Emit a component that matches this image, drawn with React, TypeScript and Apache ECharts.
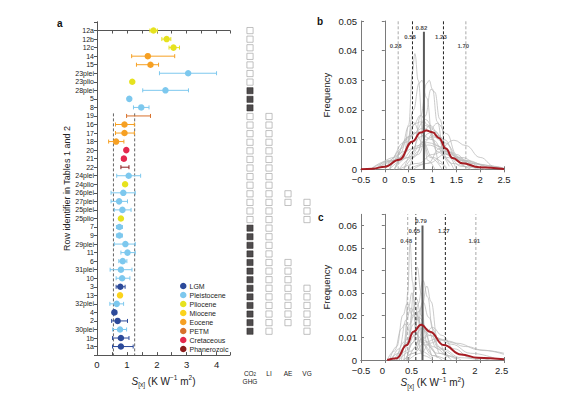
import React, { useEffect, useRef } from "react";
import * as echarts from "echarts";

// ---------- Panel a data ----------
const rowIds = ["12a","12b","12c","14","15","23plei","23plio","28plei","5","8","19","16","17","18","20","21","22","24plei","24plio","26plei","27plei","25plei","25plio","7","9","29plei","11","6","31plei","10","3","13","32plei","4","2","30plei","1b","1a"];
const rowPeriod = ["Pliocene","Pliocene","Pliocene","Eocene","Eocene","Pleistocene","Pliocene","Pleistocene","Pleistocene","Pleistocene","PETM","Eocene","Eocene","Eocene","Cretaceous","Cretaceous","Phanerozoic","Pleistocene","Pliocene","Pleistocene","Pleistocene","Pleistocene","Pliocene","Pleistocene","Pleistocene","Pleistocene","Pleistocene","Pleistocene","Pleistocene","Pleistocene","LGM","Miocene","Pleistocene","LGM","LGM","Pleistocene","LGM","LGM"];
const rowBest = [1.89,2.33,2.56,1.70,1.79,3.05,1.18,2.29,1.08,1.48,null,0.92,0.92,0.64,0.98,0.9,null,1.06,0.94,0.88,0.74,0.85,0.80,0.75,0.75,0.95,1.02,0.86,0.80,0.84,0.78,0.77,0.66,0.58,0.69,0.77,0.80,0.80];
const rowLow = [1.77,2.17,2.41,1.16,1.32,2.09,null,1.53,null,1.22,0.99,0.62,0.62,0.39,null,0.82,0.80,0.66,null,0.47,0.47,0.58,null,0.65,0.65,0.58,0.80,0.73,0.44,0.64,0.64,null,0.43,0.52,0.49,0.52,0.52,0.52];
const rowHigh = [2.02,2.47,2.76,2.60,2.06,4.00,null,3.06,null,1.74,1.79,1.25,1.25,0.90,null,0.95,1.07,1.46,null,1.28,1.02,1.14,null,0.85,0.85,1.28,1.28,1.00,1.17,1.10,0.94,null,0.89,0.66,1.02,0.99,1.07,1.21];

const periods = ["LGM","Pleistocene","Pliocene","Miocene","Eocene","PETM","Cretaceous","Phanerozoic"];
const periodColors = ["#2c4a9a","#7dc8ee","#e6e21e","#fbd31c","#f6a023","#d8712c","#e4284d","#8b1c1c"];

const aRangeLines = [0.55, 1.26];
const aRangeStartRow = "19";

// forcing columns
const sqColumns = ["{c|CO}{s|2}\n{c|GHG}", "LI", "AE", "VG"];
const co2Open = ["12a","12b","12c","14","15","23plei","23plio","19","16","17","18","20","21","22","24plei","24plio","26plei","27plei","25plei","25plio"];
const co2Filled = ["28plei","5","8","7","9","29plei","11","6","31plei","10","3","13","32plei","4","2","30plei"];
const liRows = ["19","16","17","18","20","21","22","24plei","24plio","26plei","27plei","25plei","25plio","7","9","29plei","11","6","31plei","10","3","13","32plei","4","2","30plei"];
const aeRows = ["26plei","27plei","6","31plei","10","3","13","32plei","4","2"];
const vgRows = ["27plei","25plei","25plio","3","13","32plei","4","2","30plei"];

// ---------- Panel b data ----------
const bGrayCurves: number[][][] = [
  [[0.2,0],[0.4,0.004],[0.5,0.015],[0.58,0.033],[0.63,0.039],[0.7,0.03],[0.8,0.012],[0.9,0.003],[1.05,0]],
  [[0.2,0],[0.45,0.006],[0.6,0.02],[0.72,0.029],[0.78,0.030],[0.88,0.024],[1.0,0.01],[1.15,0.002],[1.3,0]],
  [[0.4,0],[0.6,0.006],[0.75,0.018],[0.88,0.029],[0.93,0.030],[1.0,0.027],[1.1,0.016],[1.25,0.004],[1.45,0]],
  [[0.5,0],[0.7,0.006],[0.85,0.018],[0.97,0.027],[1.05,0.026],[1.15,0.017],[1.3,0.005],[1.5,0]],
  [[-0.2,0],[0.2,0.003],[0.45,0.01],[0.65,0.0155],[0.75,0.016],[0.9,0.0145],[1.1,0.008],[1.4,0.002],[1.8,0]],
  [[0,0],[0.35,0.004],[0.6,0.012],[0.85,0.0168],[1.05,0.013],[1.3,0.005],[1.6,0.001],[2,0]],
  [[0.4,0],[0.7,0.005],[0.9,0.012],[1.1,0.0155],[1.3,0.012],[1.5,0.005],[1.8,0.001],[2.1,0]],
  [[0.6,0],[0.9,0.002],[1.15,0.007],[1.45,0.0098],[1.7,0.008],[2.0,0.004],[2.3,0.001],[2.5,0.0003]],
  [[-0.2,0],[0.2,0.004],[0.5,0.011],[0.8,0.0138],[1.1,0.011],[1.4,0.004],[1.8,0.0005]],
  [[-0.3,0],[0.1,0.003],[0.4,0.009],[0.7,0.0125],[1.0,0.01],[1.3,0.004],[1.7,0.0005]],
  [[0.1,0],[0.5,0.004],[0.8,0.009],[1.0,0.011],[1.25,0.009],[1.6,0.003],[2.0,0.0005]],
  [[-0.2,0],[0.3,0.003],[0.7,0.008],[0.9,0.009],[1.2,0.0075],[1.6,0.003],[2.2,0.0003]],
  [[0.3,0],[0.7,0.002],[1.0,0.005],[1.25,0.0062],[1.6,0.004],[2.0,0.0015],[2.5,0.0002]],
  [[0,0],[0.3,0.005],[0.5,0.011],[0.62,0.0125],[0.8,0.009],[1.0,0.004],[1.3,0.0005]],
  [[0.2,0],[0.5,0.004],[0.75,0.011],[0.95,0.0148],[1.15,0.011],[1.4,0.004],[1.7,0.0005]],
  [[0.1,0],[0.4,0.006],[0.6,0.015],[0.75,0.0182],[0.9,0.015],[1.1,0.006],[1.35,0.001]],
  [[-0.3,0],[0.2,0.003],[0.6,0.007],[0.9,0.0082],[1.3,0.006],[1.8,0.002],[2.4,0.0002]],
  [[0.3,0],[0.6,0.004],[0.85,0.01],[1.05,0.0125],[1.25,0.01],[1.5,0.004],[1.9,0.0005]],
  [[0.1,0],[0.35,0.007],[0.5,0.0145],[0.6,0.0158],[0.75,0.012],[0.95,0.004],[1.2,0]],
  [[0.5,0],[0.9,0.002],[1.3,0.0052],[1.7,0.003],[2.2,0.0008],[2.5,0.0002]],
];
const bRedCurve = [[-0.5,0],[-0.25,0.0002],[0,0.0009],[0.3,0.0032],[0.58,0.0094],[0.75,0.0124],[0.87,0.0131],[1.0,0.0125],[1.14,0.0105],[1.28,0.007],[1.42,0.0038],[1.63,0.002],[1.98,0.0007],[2.5,0.0001]];
const bMarkers = [0.28, 0.58, 0.82, 1.23, 1.70];
const bMarkerLabels = ["0.28","0.58","0.82","1.23","1.70"];
const bMarkerKinds = ["light","dark","solid","dark","light"];

// ---------- Panel c data ----------
const cGrayCurves: number[][][] = [
  [[0.35,0],[0.43,0.008],[0.48,0.03],[0.53,0.052],[0.58,0.035],[0.65,0.012],[0.8,0.002],[1.0,0]],
  [[0.4,0],[0.52,0.01],[0.6,0.03],[0.68,0.0415],[0.76,0.03],[0.85,0.012],[1.0,0.002],[1.2,0]],
  [[0.45,0],[0.6,0.008],[0.7,0.025],[0.8,0.0355],[0.9,0.028],[1.0,0.014],[1.15,0.003],[1.4,0]],
  [[0.5,0],[0.65,0.006],[0.78,0.024],[0.88,0.033],[0.97,0.026],[1.1,0.01],[1.3,0.002],[1.6,0]],
  [[0.1,0],[0.25,0.006],[0.38,0.02],[0.47,0.0252],[0.58,0.02],[0.75,0.008],[1.0,0.002],[1.3,0]],
  [[0.15,0],[0.3,0.005],[0.45,0.018],[0.55,0.0232],[0.68,0.018],[0.85,0.007],[1.1,0.001]],
  [[0.2,0],[0.38,0.005],[0.52,0.016],[0.63,0.021],[0.78,0.016],[1.0,0.006],[1.3,0.001]],
  [[0.25,0],[0.45,0.006],[0.6,0.016],[0.72,0.019],[0.88,0.014],[1.1,0.005],[1.5,0.0005]],
  [[0.25,0],[0.45,0.004],[0.62,0.011],[0.78,0.014],[0.95,0.011],[1.2,0.005],[1.6,0.001],[2.0,0]],
  [[0.4,0],[0.6,0.003],[0.8,0.01],[1.0,0.0145],[1.2,0.011],[1.45,0.005],[1.8,0.001],[2.2,0]],
  [[0.3,0],[0.55,0.004],[0.75,0.009],[0.95,0.011],[1.3,0.0085],[1.7,0.006],[2.1,0.0042],[2.5,0.003]],
  [[0.4,0],[0.6,0.003],[0.85,0.008],[1.1,0.0095],[1.5,0.0075],[2.0,0.0045],[2.5,0.0025]],
  [[0.25,0],[0.4,0.008],[0.5,0.024],[0.57,0.03],[0.66,0.022],[0.8,0.007],[1.0,0.001]],
  [[0.3,0],[0.48,0.008],[0.58,0.022],[0.66,0.0275],[0.76,0.02],[0.9,0.007],[1.1,0.001]],
  [[0.45,0],[0.6,0.008],[0.72,0.022],[0.8,0.026],[0.92,0.019],[1.1,0.006],[1.35,0.001]],
  [[0.5,0],[0.75,0.003],[0.95,0.0075],[1.15,0.009],[1.4,0.007],[1.8,0.003],[2.3,0.0008]],
  [[0.1,0],[0.3,0.003],[0.5,0.01],[0.62,0.0122],[0.8,0.009],[1.1,0.003],[1.5,0.0003]],
  [[0.05,0],[0.2,0.004],[0.35,0.014],[0.42,0.016],[0.55,0.012],[0.75,0.004],[1.0,0.0005]],
];
const cRedCurve = [[0.05,0],[0.25,0.0008],[0.46,0.0067],[0.6,0.0126],[0.76,0.0157],[0.95,0.0126],[1.23,0.0067],[1.6,0.0025],[1.95,0.001],[2.5,0.0003]];
const cMarkers = [0.48, 0.65, 0.79, 1.27, 1.91];
const cMarkerLabels = ["0.48","0.65","0.79","1.27","1.91"];
const cMarkerKinds = ["light","dark","solid","dark","light"];
const cTickLabels = ["\u22120.5","0","0.5","1","2","2.5"];
const cTickAt = [-0.5,-0.05,0.56,1.24,1.89,2.45];

const FONT = "'Liberation Sans', Arial, Helvetica, sans-serif";
const TXT = "#222";

function buildOption(): any {
  const rIdx = (id: string) => rowIds.indexOf(id);
  const A_AX = "#555";
  const P_AX = "#7a7a7a";

  const sxName = "{i|S}{sub|[x]}{n| (K W}{sup|\u22121}{n| m}{sup|2}{n|)}";
  const sxStyle = {
    fontFamily: FONT, color: TXT, fontSize: 10,
    rich: {
      i: { fontSize: 10, fontStyle: "italic", lineHeight: 14, fontFamily: FONT, color: TXT },
      n: { fontSize: 10, lineHeight: 14, fontFamily: FONT, color: TXT },
      sub: { fontSize: 6.5, verticalAlign: "bottom", fontFamily: FONT, color: TXT },
      sup: { fontSize: 6.5, verticalAlign: "top", fontFamily: FONT, color: TXT },
    },
  };

  const fmtX = (v: number) => (v < 0 ? "\u2212" + String(Math.abs(v)) : String(v));
  const fmtY = (v: number) => (v === 0 ? "0" : v.toFixed(2));

  const mirror = (gridIndex: number, position: string, min: number, max: number, interval: number, color: string, inverse = false) => ({
    gridIndex, type: "value", position, min, max, interval, inverse,
    axisLine: { show: true, lineStyle: { color, width: 1 } },
    axisTick: { show: true, inside: true, length: 3, lineStyle: { color } },
    axisLabel: { show: false },
    splitLine: { show: false },
  });

  const series: any[] = [];

  // panel a error bars
  const errData: number[][] = [];
  rowIds.forEach((id, i) => {
    if (rowLow[i] != null && rowHigh[i] != null) {
      errData.push([rowLow[i] as number, rowHigh[i] as number, i, periods.indexOf(rowPeriod[i])]);
    }
  });
  series.push({
    type: "custom", xAxisIndex: 0, yAxisIndex: 0, z: 2, silent: true,
    encode: { x: [0, 1], y: 2 },
    data: errData,
    renderItem: (params: any, api: any) => {
      const lo = api.value(0), hi = api.value(1), r = api.value(2), ci = api.value(3);
      const p1 = api.coord([lo, r]);
      const p2 = api.coord([hi, r]);
      const c = periodColors[ci];
      const cap = 2;
      const st = { stroke: c, lineWidth: 1 };
      return {
        type: "group",
        children: [
          { type: "line", shape: { x1: p1[0], y1: p1[1], x2: p2[0], y2: p2[1] }, style: st },
          { type: "line", shape: { x1: p1[0], y1: p1[1] - cap, x2: p1[0], y2: p1[1] + cap }, style: st },
          { type: "line", shape: { x1: p2[0], y1: p2[1] - cap, x2: p2[0], y2: p2[1] + cap }, style: st },
        ],
      };
    },
  });

  // panel a range lines
  aRangeLines.forEach((v) => {
    series.push({
      type: "line", xAxisIndex: 0, yAxisIndex: 0, silent: true, symbol: "none", z: 1,
      data: [[v, rIdx(aRangeStartRow) - 0.3], [v, 38]],
      lineStyle: { color: "#555", width: 0.9, type: [3, 2] },
    });
  });

  // panel a points
  periods.forEach((p, pi) => {
    const data: number[][] = [];
    rowIds.forEach((id, i) => {
      if (rowPeriod[i] === p && rowBest[i] != null) data.push([rowBest[i] as number, i]);
    });
    series.push({
      type: "scatter", name: p, xAxisIndex: 0, yAxisIndex: 0, z: 3,
      symbol: "circle", symbolSize: 6.5,
      itemStyle: { color: periodColors[pi], opacity: 1 },
      data,
    });
  });

  // squares
  const sq = (rows: string[], col: number, filled: boolean) => ({
    type: "scatter", xAxisIndex: 2, yAxisIndex: 2, silent: true,
    symbol: "rect", symbolSize: 6.2,
    itemStyle: filled
      ? { color: "#231f20", borderColor: "#231f20", borderWidth: 0.6 }
      : { color: "#ffffff", borderColor: "#a8a8a8", borderWidth: 0.9 },
    data: rows.map((id) => [col, rIdx(id)]),
  });
  series.push(sq(co2Open, 0, false), sq(co2Filled, 0, true), sq(liRows, 1, false), sq(aeRows, 2, false), sq(vgRows, 3, false));

  // density panels
  const addPanel = (xi: number, yi: number, gray: number[][][], red: number[][], markers: number[], labels: string[], kinds: string[], top: number, solidTop: number, labelY: number[], labelOffset: number) => {
    gray.forEach((c) => {
      series.push({
        type: "line", xAxisIndex: xi, yAxisIndex: yi, silent: true, symbol: "none",
        smooth: 0.45, smoothMonotone: "x", z: 2,
        lineStyle: { color: "#b9b9b9", width: 0.75 },
        data: c,
      });
    });
    markers.forEach((m, k) => {
      const kind = kinds[k];
      series.push({
        type: "line", xAxisIndex: xi, yAxisIndex: yi, silent: true, symbol: "none", z: 3,
        data: [[m, 0], [m, kind === "solid" ? solidTop : top]],
        lineStyle: kind === "solid"
          ? { color: "#5a5a5a", width: 2 }
          : { color: kind === "dark" ? "#222" : "#a9a9a9", width: 1, type: [3, 2] },
      });
    });
    series.push({
      type: "line", xAxisIndex: xi, yAxisIndex: yi, silent: true, symbol: "none",
      smooth: 0.45, smoothMonotone: "x", z: 4,
      lineStyle: { color: "#a61c23", width: 2 },
      data: red,
    });
    series.push({
      type: "scatter", xAxisIndex: xi, yAxisIndex: yi, silent: true, z: 5,
      symbolSize: 1, itemStyle: { color: "rgba(0,0,0,0)" },
      label: {
        show: true, position: "inside", formatter: "{b}", offset: [labelOffset, 0],
        fontSize: 6, fontWeight: "bold", color: TXT, fontFamily: FONT,
      },
      data: markers.map((m, k) => ({ name: labels[k], value: [m, labelY[k]] })),
    });
  };
  addPanel(3, 3, bGrayCurves, bRedCurve, bMarkers, bMarkerLabels, bMarkerKinds, 0.05, 0.0464,
    [0.0417, 0.0445, 0.0477, 0.0445, 0.0417], -2.5);
  addPanel(5, 5, cGrayCurves, cRedCurve, cMarkers, cMarkerLabels, cMarkerKinds, 0.065, 0.060,
    [0.053, 0.0577, 0.0622, 0.0577, 0.053], -1.5);

  return {
    animation: false,
    backgroundColor: "#ffffff",
    textStyle: { fontFamily: FONT },
    grid: [
      { left: 97, top: 22, width: 133, height: 335 },
      { left: 240.5, top: 22, width: 76, height: 335 },
      { left: 361, top: 21, width: 143, height: 148.3 },
      { left: 361, top: 214.3, width: 143, height: 145.7 },
    ],
    legend: {
      data: periods,
      orient: "vertical",
      left: 175, top: 277,
      icon: "circle", itemWidth: 6.5, itemHeight: 6.5, itemGap: 1,
      selectedMode: false,
      textStyle: { fontSize: 7, color: TXT, fontFamily: FONT, lineHeight: 8, padding: [0, 0, 0, -2] },
    },
    xAxis: [
      {
        gridIndex: 0, type: "value", position: "bottom", min: 0, max: 4.45, interval: 0.5,
        axisLine: { show: true, onZero: false, lineStyle: { color: A_AX, width: 1 } },
        axisTick: { show: true, inside: true, length: 3, lineStyle: { color: A_AX } },
        axisLabel: { fontSize: 9.5, color: TXT, margin: 4, fontFamily: FONT, formatter: (v: number) => (Math.abs(v - Math.round(v)) < 1e-6 ? String(Math.round(v)) : "") },
        splitLine: { show: false },
        name: sxName, nameLocation: "middle", nameGap: 15, nameTextStyle: sxStyle,
      },
      mirror(0, "top", 0, 4.45, 0.5, A_AX),
      {
        gridIndex: 1, type: "category", data: sqColumns,
        axisLine: { show: false }, axisTick: { show: false }, splitLine: { show: false },
        axisLabel: {
          interval: 0, margin: 12, fontSize: 6.5, color: TXT, fontFamily: FONT, lineHeight: 8,
          rich: {
            c: { fontSize: 6.5, color: TXT, fontFamily: FONT, lineHeight: 8 },
            s: { fontSize: 4.5, color: TXT, fontFamily: FONT, verticalAlign: "bottom" },
          },
        },
      },
      {
        gridIndex: 2, type: "value", position: "bottom", min: -0.5, max: 2.5, interval: 0.5,
        axisLine: { show: true, onZero: false, lineStyle: { color: P_AX, width: 1 } },
        axisTick: { show: true, inside: true, length: 3, lineStyle: { color: P_AX } },
        axisLabel: { fontSize: 9.5, color: TXT, margin: 5, fontFamily: FONT, formatter: fmtX },
        splitLine: { show: false },
      },
      mirror(2, "top", -0.5, 2.5, 0.5, P_AX),
      {
        gridIndex: 3, type: "value", position: "bottom", min: -0.5, max: 2.5, interval: 0.5,
        axisLine: { show: true, onZero: false, lineStyle: { color: P_AX, width: 1 } },
        axisTick: { show: true, inside: true, length: 3, lineStyle: { color: P_AX } },
        axisLabel: {
          fontSize: 9.5, color: TXT, margin: 5, fontFamily: FONT,
          customValues: cTickAt,
          formatter: (v: number) => {
            let best = 0;
            cTickAt.forEach((t, k) => { if (Math.abs(t - v) < Math.abs(cTickAt[best] - v)) best = k; });
            return cTickLabels[best];
          },
        },
        splitLine: { show: false },
        name: sxName, nameLocation: "middle", nameGap: 14, nameTextStyle: sxStyle,
      },
      mirror(3, "top", -0.5, 2.5, 0.5, P_AX),
    ],
    yAxis: [
      {
        gridIndex: 0, type: "value", min: -1, max: 38, interval: 1, inverse: true,
        axisLine: { show: true, onZero: false, lineStyle: { color: A_AX, width: 1 } },
        axisTick: { show: true, inside: false, length: 2, lineStyle: { color: A_AX } },
        axisLabel: {
          fontSize: 7, color: TXT, margin: 3, fontFamily: FONT,
          formatter: (v: number) => (rowIds[Math.round(v)] ?? ""),
        },
        splitLine: { show: false },
        name: "Row identifier in Tables 1 and 2", nameLocation: "middle", nameRotate: 90, nameGap: 26,
        nameTextStyle: { fontSize: 9, color: TXT, fontFamily: FONT },
      },
      mirror(0, "right", -1, 38, 1, A_AX, true),
      { gridIndex: 1, type: "value", min: -1, max: 38, inverse: true, show: false },
      {
        gridIndex: 2, type: "value", min: 0, max: 0.05, interval: 0.01,
        axisLine: { show: true, onZero: false, lineStyle: { color: P_AX, width: 1 } },
        axisTick: { show: true, inside: true, length: 3, lineStyle: { color: P_AX } },
        axisLabel: { fontSize: 9.5, color: TXT, margin: 4, fontFamily: FONT, formatter: fmtY },
        splitLine: { show: false },
        name: "Frequency", nameLocation: "middle", nameRotate: 90, nameGap: 30,
        nameTextStyle: { fontSize: 9.5, color: TXT, fontFamily: FONT },
      },
      mirror(2, "right", 0, 0.05, 0.01, P_AX),
      {
        gridIndex: 3, type: "value", min: 0, max: 0.065, interval: 0.01,
        axisLine: { show: true, onZero: false, lineStyle: { color: P_AX, width: 1 } },
        axisTick: { show: true, inside: true, length: 3, lineStyle: { color: P_AX } },
        axisLabel: { fontSize: 9.5, color: TXT, margin: 4, fontFamily: FONT, formatter: fmtY, showMaxLabel: false },
        splitLine: { show: false },
        name: "Frequency", nameLocation: "middle", nameRotate: 90, nameGap: 30,
        nameTextStyle: { fontSize: 9.5, color: TXT, fontFamily: FONT },
      },
      mirror(3, "right", 0, 0.065, 0.01, P_AX),
    ],
    graphic: [
      { type: "text", left: 57, top: 18, style: { text: "a", font: `bold 10px ${FONT}`, fill: "#111" } },
      { type: "text", left: 317, top: 16, style: { text: "b", font: `bold 10px ${FONT}`, fill: "#111" } },
      { type: "text", left: 318, top: 212, style: { text: "c", font: `bold 10px ${FONT}`, fill: "#111" } },
    ],
    series,
  };
}

export default function App() {
  const ref = useRef<HTMLDivElement>(null);
  useEffect(() => {
    if (!ref.current) return;
    const chart = echarts.init(ref.current, null, { renderer: "svg" });
    chart.setOption(buildOption());
    return () => chart.dispose();
  }, []);
  return <div ref={ref} style={{ position: "absolute", left: 0, top: 0, width: 574, height: 393, background: "#fff" }} />;
}
